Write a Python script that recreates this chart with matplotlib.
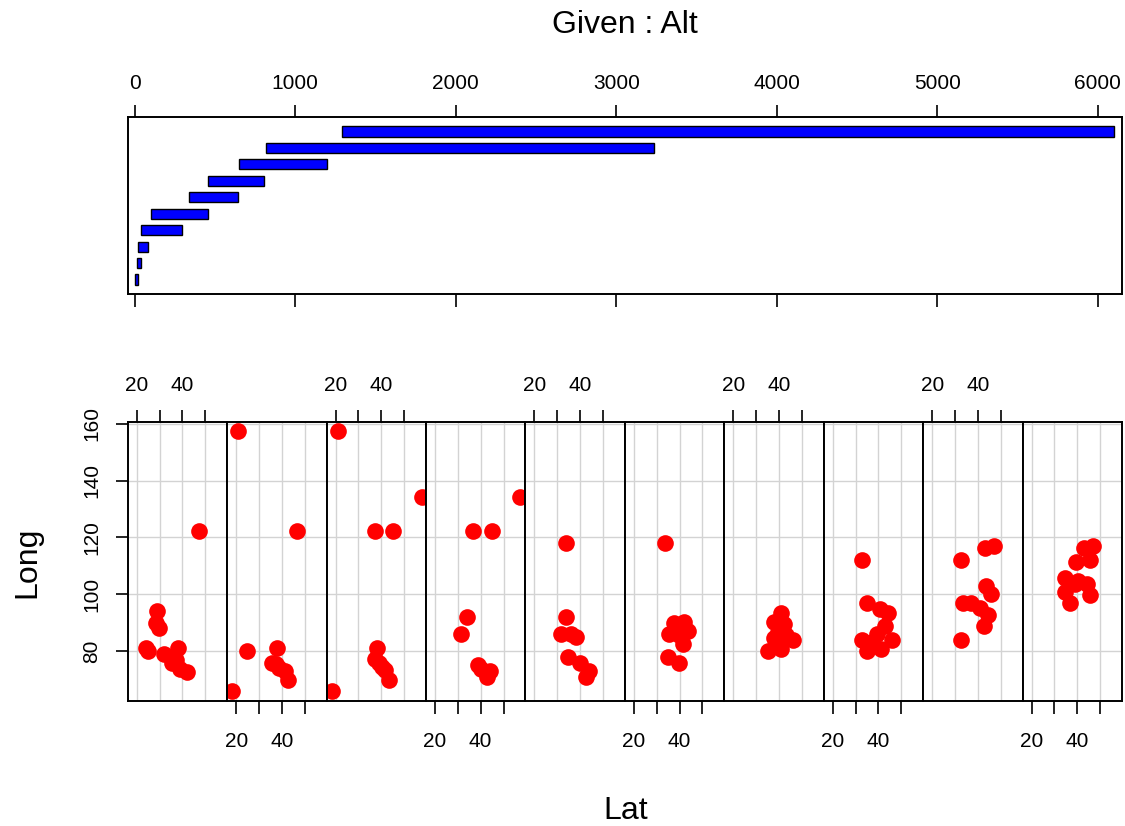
import numpy as np
import matplotlib.pyplot as plt

plt.rcParams['font.family'] = ['Liberation Sans', 'DejaVu Sans']

# altitude intervals for the conditioning panel (low, high)
alt_lo = [4, 12, 24, 41, 102, 341, 459, 650, 817, 1293]
alt_hi = [24, 41, 81, 297, 455, 642, 809, 1199, 3236, 6102]

# Lat / Long of the cities inside each altitude interval
lat1 = [47.1, 28.8, 28.5, 29.8, 24.0, 24.8, 32.0, 37.9, 35.4, 37.2, 38.8, 42.0]
long1 = [122.2, 94.1, 90.1, 88.0, 81.1, 80.0, 79.1, 81.2, 75.8, 76.9, 73.9, 72.7]

lat2 = [20.7, 46.8, 24.8, 18.1, 37.7, 35.5, 37.5, 38.6, 41.6, 42.8]
long2 = [157.3, 122.2, 80.0, 65.9, 81.3, 76.0, 75.5, 74.2, 73.0, 69.8]

lat3 = [21.0, 18.3, 57.7, 37.1, 45.1, 38.1, 37.4, 38.8, 40.2, 41.7, 43.2]
long3 = [157.3, 65.9, 134.4, 122.2, 122.2, 81.3, 77.1, 75.7, 74.5, 73.3, 69.8]

lat4 = [57.4, 36.8, 44.8, 33.8, 31.6, 38.8, 40.3, 43.9, 42.8]
long4 = [134.4, 122.2, 122.2, 92.1, 86.0, 75.3, 73.9, 73.0, 71.0]

lat5 = [33.9, 33.9, 31.7, 36.1, 38.3, 34.9, 39.8, 43.9, 42.7]
long5 = [118.2, 92.1, 86.2, 86.2, 85.0, 78.0, 75.7, 73.1, 71.0]

lat6 = [33.8, 37.7, 42.0, 35.5, 43.5, 39.9, 41.6, 38.4, 34.8, 39.9]
long6 = [118.2, 90.1, 90.3, 86.2, 87.0, 85.6, 82.7, 87.2, 78.0, 76.0]

lat7 = [40.8, 37.9, 42.3, 39.4, 43.0, 46.3, 35.0, 40.8, 37.9, 40.2]
long7 = [93.5, 90.3, 89.7, 86.8, 85.6, 84.1, 80.0, 80.7, 84.5, 88.0]

lat8 = [32.9, 34.8, 40.7, 44.3, 42.9, 39.6, 33.0, 46.1, 34.8, 41.0, 37.4]
long8 = [112.1, 97.0, 95.0, 93.3, 88.9, 86.2, 84.1, 84.1, 80.0, 80.7, 83.3]

lat9 = [32.8, 43.0, 46.9, 43.7, 45.9, 33.5, 37.2, 40.8, 44.5, 42.7, 32.8]
long9 = [112.1, 116.2, 117.0, 103.0, 100.0, 97.0, 97.0, 95.3, 92.9, 88.9, 83.9]

lat10 = [39.6, 42.9, 46.8, 45.7, 34.8, 40.3, 44.2, 34.8, 45.7, 37.0, 38.8]
long10 = [111.2, 116.2, 117.1, 112.1, 105.8, 104.8, 103.5, 100.9, 99.7, 96.8, 103.8]

lats = [lat1, lat2, lat3, lat4, lat5, lat6, lat7, lat8, lat9, lat10]
longs = [long1, long2, long3, long4, long5, long6, long7, long8, long9, long10]

lat_ticks = [20, 30, 40, 50]
lat_labels = ['20', '', '40', '']
long_ticks = [80, 100, 120, 140, 160]
alt_ticks = [0, 1000, 2000, 3000, 4000, 5000, 6000]

W, H = 1125, 826
fig = plt.figure(figsize=(W / 100, H / 100), dpi=100)

# conditioning panel
gax = fig.add_axes([128 / W, 1 - 294.3 / H, 994 / W, 177.6 / H])
rows = np.arange(1, len(alt_lo) + 1)
gax.barh(rows, np.array(alt_hi) - np.array(alt_lo), left=alt_lo, height=0.62,
         color='#0000FF', edgecolor='black', linewidth=1.0)
gax.set_xlim(-41, 6150)
gax.set_ylim(0.1, 10.9)
gax.set_yticks([])
gax.set_xticks(alt_ticks)
gax.xaxis.set_ticks_position('both')
gax.tick_params(axis='x', top=True, bottom=True, labeltop=True, labelbottom=False,
                length=9, width=1.2, pad=8.4, labelsize=15)
for s in gax.spines.values():
    s.set_linewidth(1.4)
fig.text(625 / W, 1 - 25 / H, 'Given : Alt', ha='center', va='center', fontsize=23)

# scatter panels, one per interval
pw = (1122 - 127.7) / 10
for i in range(10):
    ax = fig.add_axes([(127.7 + i * pw) / W, 1 - 701 / H, pw / W, 279 / H])
    ax.set_xlim(16.05, 59.6)
    ax.set_ylim(62.5, 160.6)
    ax.set_xticks(lat_ticks)
    ax.set_xticklabels(lat_labels)
    ax.set_yticks(long_ticks)
    ax.grid(True, color='#D3D3D3', linewidth=1.0)
    ax.set_axisbelow(True)
    ax.plot(lats[i], longs[i], 'o', color='red', markersize=12, markeredgewidth=0)

    on_top = (i % 2 == 0)
    ax.tick_params(axis='x', top=on_top, labeltop=on_top, bottom=not on_top,
                   labelbottom=not on_top, length=9, width=1.2, labelsize=15,
                   pad=10.2 if on_top else 13)
    if i == 0:
        ax.set_yticklabels([str(t) for t in long_ticks], rotation=90, va='center')
        ax.tick_params(axis='y', length=9, width=1.2, labelsize=15, pad=10.3)
    else:
        ax.tick_params(axis='y', left=False, labelleft=False)
    for s in ax.spines.values():
        s.set_linewidth(1.4)

fig.text(27 / W, 1 - 562 / H, 'Long', rotation=90, ha='center', va='center', fontsize=23)
fig.text(626 / W, 1 - 811 / H, 'Lat', ha='center', va='center', fontsize=23)

fig.savefig('out.png', dpi=100)
